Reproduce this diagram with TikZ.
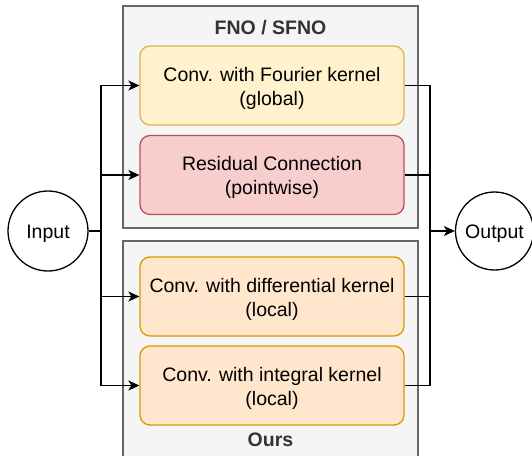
\documentclass[tikz,border=0pt]{standalone}
\usepackage{fontspec}
\setmainfont{Liberation Sans}
\usetikzlibrary{arrows.meta}
\definecolor{contfill}{HTML}{F5F5F5}
\definecolor{contdraw}{HTML}{666666}
\definecolor{titlecol}{HTML}{333333}
\definecolor{yelfill}{HTML}{FFF2CC}
\definecolor{yeldraw}{HTML}{D6B656}
\definecolor{redfill}{HTML}{F8CECC}
\definecolor{reddraw}{HTML}{B85450}
\definecolor{orafill}{HTML}{FFE6CC}
\definecolor{oradraw}{HTML}{D79B00}
\tikzset{
  txt/.style={font=\fontsize{19.5}{24}\selectfont},
  container/.style={draw=contdraw, fill=contfill, line width=1.3pt, minimum width=295pt, inner sep=0pt},
  grouptitle/.style={txt, font=\fontsize{19.5}{24}\selectfont\bfseries, text=titlecol, inner sep=0pt},
  opbox/.style={draw, rounded corners=10pt, line width=1.3pt, minimum width=264pt, minimum height=79pt, inner sep=0pt},
  optext/.style={txt, align=center, inner sep=0pt, yshift=-2.5pt},
  iobox/.style={txt, circle, draw, line width=1.3pt, inner sep=0pt, text height=14pt, text depth=0pt},
  conn/.style={line width=1.4pt},
  arr/.style={conn, -{Stealth[length=11pt, width=10pt, inset=3pt]}},
}
\begin{document}
\begin{tikzpicture}[x=1pt, y=-1pt]
\useasboundingbox (0,0) rectangle (532,455);
% containers
\node[container, minimum height=222pt] (fno) at (270.5,117) {};
\node[container, minimum height=230pt] (ours) at (270.5,356) {};
\node[grouptitle, anchor=base] (fnot) at (270.5,34) {FNO / SFNO};
\node[grouptitle, anchor=base] (ourst) at (270.5,446) {Ours};
% operator boxes
\node[opbox, fill=yelfill, draw=yeldraw] (b1) at (272,85.5) {};
\node[optext] (b1t) at (b1.center) {Conv. with Fourier kernel\\(global)};
\node[opbox, fill=redfill, draw=reddraw] (b2) at (272,175) {};
\node[optext] (b2t) at (b2.center) {Residual Connection\\(pointwise)};
\node[opbox, fill=orafill, draw=oradraw] (b3) at (272,296.5) {};
\node[optext] (b3t) at (b3.center) {Conv. with differential kernel\\(local)};
\node[opbox, fill=orafill, draw=oradraw] (b4) at (272,385.5) {};
\node[optext] (b4t) at (b4.center) {Conv. with integral kernel\\(local)};
% input / output
\node[iobox, minimum size=80pt] (in) at (48,231) {Input};
\node[iobox, minimum size=78pt] (out) at (494.5,231) {Output};
% junctions
\coordinate (jl) at (101,231);
\coordinate (jr) at (430,231);
% connectors
\draw[conn] (in.east) -- (jl);
\draw[arr] (jl) |- (b1.west);
\draw[arr] (jl) |- (b2.west);
\draw[arr] (jl) |- (b3.west);
\draw[arr] (jl) |- (b4.west);
\draw[conn] (b1.east) -| (jr);
\draw[conn] (b2.east) -| (jr);
\draw[conn] (b3.east) -| (jr);
\draw[conn] (b4.east) -| (jr);
\draw[arr] (jr) -- (out.west);
\end{tikzpicture}
\end{document}
